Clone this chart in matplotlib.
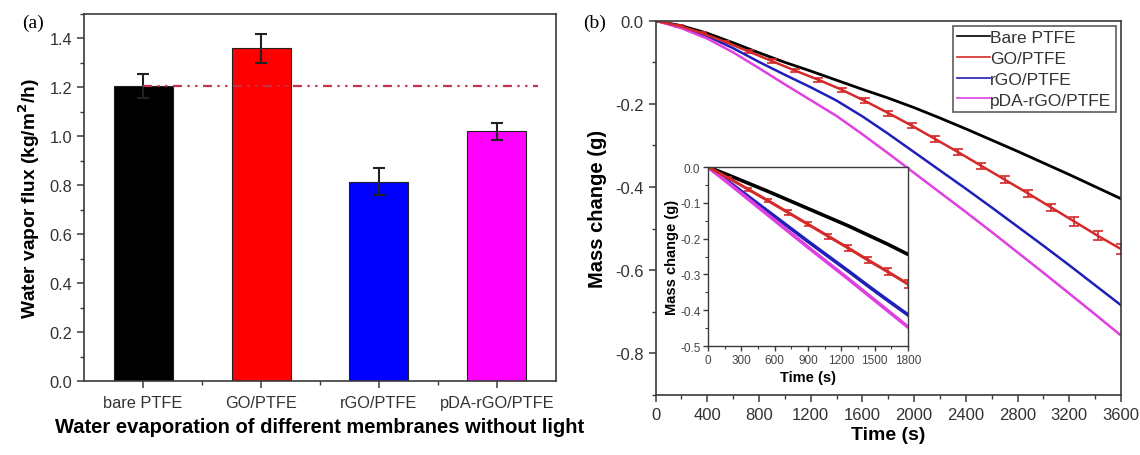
import matplotlib
matplotlib.use("Agg")
import matplotlib.pyplot as plt
from matplotlib.ticker import MultipleLocator, FixedLocator
from matplotlib.lines import Line2D

plt.rcParams['font.family'] = ['Liberation Sans', 'DejaVu Sans']
plt.rcParams['axes.unicode_minus'] = False

# ---------------- Panel (a) data ----------------
membranes = ["bare PTFE", "GO/PTFE", "rGO/PTFE", "pDA-rGO/PTFE"]
flux = [1.205, 1.36, 0.815, 1.02]
flux_err = [0.05, 0.06, 0.055, 0.035]
bar_colors = ["#000000", "#ff0000", "#0000ff", "#ff00ff"]

# ---------------- Panel (b) main data ----------------
t_main = [0, 200, 400, 600, 800, 1000, 1200, 1400, 1600, 1800, 2000,
          2200, 2400, 2600, 2800, 3000, 3200, 3400, 3600]
bare_main = [0, -0.012, -0.030, -0.053, -0.077, -0.100, -0.121, -0.143, -0.165,
             -0.186, -0.209, -0.234, -0.260, -0.287, -0.314, -0.342, -0.370,
             -0.399, -0.428]
rgo_main = [0, -0.015, -0.037, -0.066, -0.099, -0.130, -0.160, -0.192, -0.230,
            -0.272, -0.316, -0.360, -0.404, -0.449, -0.495, -0.541, -0.588,
            -0.636, -0.684]
pda_main = [0, -0.018, -0.043, -0.076, -0.114, -0.153, -0.191, -0.229, -0.273,
            -0.319, -0.366, -0.413, -0.460, -0.508, -0.557, -0.606, -0.656,
            -0.706, -0.757]
t_go = [0, 180, 360, 540, 720, 900, 1080, 1260, 1440, 1620, 1800, 1980,
        2160, 2340, 2520, 2700, 2880, 3060, 3240, 3420, 3600]
go_main = [0, -0.012, -0.030, -0.051, -0.074, -0.097, -0.120, -0.142, -0.166,
           -0.193, -0.222, -0.252, -0.284, -0.316, -0.349, -0.382, -0.415,
           -0.449, -0.483, -0.517, -0.549]
go_main_err = [0, 0.002, 0.002, 0.003, 0.003, 0.004, 0.004, 0.005, 0.005,
               0.006, 0.006, 0.006, 0.007, 0.007, 0.008, 0.008, 0.009,
               0.009, 0.010, 0.011, 0.012]

# ---------------- Panel (b) inset data ----------------
t_inset = [0, 180, 360, 540, 720, 900, 1080, 1260, 1440, 1620, 1800]
bare_inset = [0, -0.022, -0.045, -0.068, -0.092, -0.116, -0.140, -0.164, -0.190, -0.216, -0.244]
go_inset = [0, -0.030, -0.062, -0.094, -0.127, -0.160, -0.193, -0.226, -0.260, -0.293, -0.327]
rgo_inset = [0, -0.040, -0.082, -0.124, -0.166, -0.208, -0.249, -0.290, -0.332, -0.373, -0.413]
pda_inset = [0, -0.044, -0.089, -0.134, -0.179, -0.224, -0.268, -0.312, -0.357, -0.402, -0.447]
go_inset_err = [0, 0.003, 0.004, 0.005, 0.006, 0.006, 0.007, 0.008, 0.009, 0.010, 0.011]

legend_labels = ["Bare PTFE", "GO/PTFE", "rGO/PTFE", "pDA-rGO/PTFE"]
line_colors = ["#000000", "#d42a2a", "#2020b8", "#e040e0"]

SPINE = "#3a3a3a"

fig = plt.figure(figsize=(11.4, 4.56), dpi=100)

def style_axes(ax, lw=1.2):
    for s in ax.spines.values():
        s.set_color(SPINE)
        s.set_linewidth(lw)

# ================= Panel (a) =================
axa = fig.add_axes([0.0737, 0.1623, 0.414, 0.8048])
xpos = list(range(1, len(membranes) + 1))
axa.bar(xpos, flux, width=0.5, color=bar_colors, edgecolor="#202020", linewidth=0.8, zorder=2)
axa.errorbar(xpos, flux, yerr=flux_err, fmt="none", ecolor="#222222",
             elinewidth=1.5, capsize=4, capthick=1.5, zorder=3)
axa.plot([xpos[0], 4.35], [flux[0], flux[0]], color="#c8304a", linewidth=1.6,
         dashes=(4, 2.5, 1, 2.5, 1, 2.5), zorder=4)
axa.set_xlim(0.5, 4.5)
axa.set_ylim(0, 1.5)
axa.yaxis.set_major_locator(FixedLocator([0, 0.2, 0.4, 0.6, 0.8, 1.0, 1.2, 1.4]))
axa.yaxis.set_minor_locator(MultipleLocator(0.1))
axa.set_yticklabels(["0.0", "0.2", "0.4", "0.6", "0.8", "1.0", "1.2", "1.4"])
axa.set_xticks(xpos)
axa.set_xticklabels(membranes)
axa.xaxis.set_minor_locator(FixedLocator([1.5, 2.5, 3.5]))
axa.tick_params(axis="both", which="major", direction="out", length=5, width=1.1,
                color=SPINE, labelsize=11.8, labelcolor="#333333")
axa.tick_params(axis="both", which="minor", direction="out", length=3, width=1.0, color=SPINE)
axa.tick_params(axis="x", which="major", pad=5)
axa.set_ylabel("Water vapor flux (kg/m$^{\\mathbf{2}}$/h)", fontsize=13.8, fontweight="bold", labelpad=5)
axa.set_xlabel("Water evaporation of different membranes without light", fontsize=14.5,
               fontweight="bold", labelpad=5)
style_axes(axa)
fig.text(0.019, 0.968, "(a)", fontsize=14, family=["Liberation Serif", "DejaVu Serif"],
         ha="left", va="top")

# ================= Panel (b) =================
axb = fig.add_axes([0.575, 0.1316, 0.4083, 0.8208])
axb.plot(t_main, bare_main, color=line_colors[0], linewidth=2.0)
axb.errorbar(t_go, go_main, yerr=go_main_err, color=line_colors[1], linewidth=1.8,
             elinewidth=1.2, capsize=3.5, capthick=1.2)
axb.plot(t_main, rgo_main, color=line_colors[2], linewidth=1.8)
axb.plot(t_main, pda_main, color=line_colors[3], linewidth=1.8)
axb.set_xlim(0, 3600)
axb.set_ylim(-0.9, 0)
axb.xaxis.set_major_locator(MultipleLocator(400))
axb.xaxis.set_minor_locator(MultipleLocator(200))
axb.yaxis.set_major_locator(FixedLocator([0, -0.2, -0.4, -0.6, -0.8]))
axb.yaxis.set_minor_locator(MultipleLocator(0.1))
axb.set_yticklabels(["0.0", "-0.2", "-0.4", "-0.6", "-0.8"])
axb.tick_params(axis="both", which="major", direction="out", length=5, width=1.1,
                color=SPINE, labelsize=12, labelcolor="#333333")
axb.tick_params(axis="both", which="minor", direction="out", length=3, width=1.0, color=SPINE)
axb.set_xlabel("Time (s)", fontsize=14, fontweight="bold", labelpad=3)
axb.set_ylabel("Mass change (g)", fontsize=14.5, fontweight="bold", labelpad=6)
style_axes(axb)

leg_handles = [Line2D([0], [0], color=c, linewidth=1.2) for c in line_colors]
leg = axb.legend(leg_handles, legend_labels, loc="upper right", fontsize=12.5,
                 handlelength=1.9, handletextpad=0.0, labelspacing=0.32,
                 borderpad=0.25, borderaxespad=0.3, frameon=True, fancybox=False)
leg.get_frame().set_edgecolor("#333333")
leg.get_frame().set_linewidth(1.2)
for txt in leg.get_texts():
    txt.set_color("#333333")

fig.text(0.5115, 0.968, "(b)", fontsize=14, family=["Liberation Serif", "DejaVu Serif"],
         ha="left", va="top")

# ---------------- Inset ----------------
axi = fig.add_axes([0.6211, 0.2390, 0.1754, 0.3925])
axi.plot(t_inset, bare_inset, color=line_colors[0], linewidth=2.6)
axi.errorbar(t_inset, go_inset, yerr=go_inset_err, color=line_colors[1], linewidth=2.2,
             elinewidth=1.2, capsize=3, capthick=1.2)
axi.plot(t_inset, rgo_inset, color=line_colors[2], linewidth=2.6)
axi.plot(t_inset, pda_inset, color=line_colors[3], linewidth=2.6)
axi.set_xlim(0, 1800)
axi.set_ylim(-0.5, 0)
axi.xaxis.set_major_locator(MultipleLocator(300))
axi.xaxis.set_minor_locator(MultipleLocator(150))
axi.yaxis.set_major_locator(FixedLocator([0, -0.1, -0.2, -0.3, -0.4, -0.5]))
axi.yaxis.set_minor_locator(MultipleLocator(0.05))
axi.set_yticklabels(["0.0", "-0.1", "-0.2", "-0.3", "-0.4", "-0.5"])
axi.tick_params(axis="both", which="major", direction="out", length=3.5, width=1.0,
                color=SPINE, labelsize=8.5, labelcolor="#444444", pad=2)
axi.tick_params(axis="both", which="minor", direction="out", length=2, width=0.8, color=SPINE)
axi.set_xlabel("Time (s)", fontsize=10.5, fontweight="bold", labelpad=3)
axi.set_ylabel("Mass change (g)", fontsize=10.5, fontweight="bold", labelpad=1)
style_axes(axi, lw=1.0)

fig.savefig("out.png", dpi=100)
